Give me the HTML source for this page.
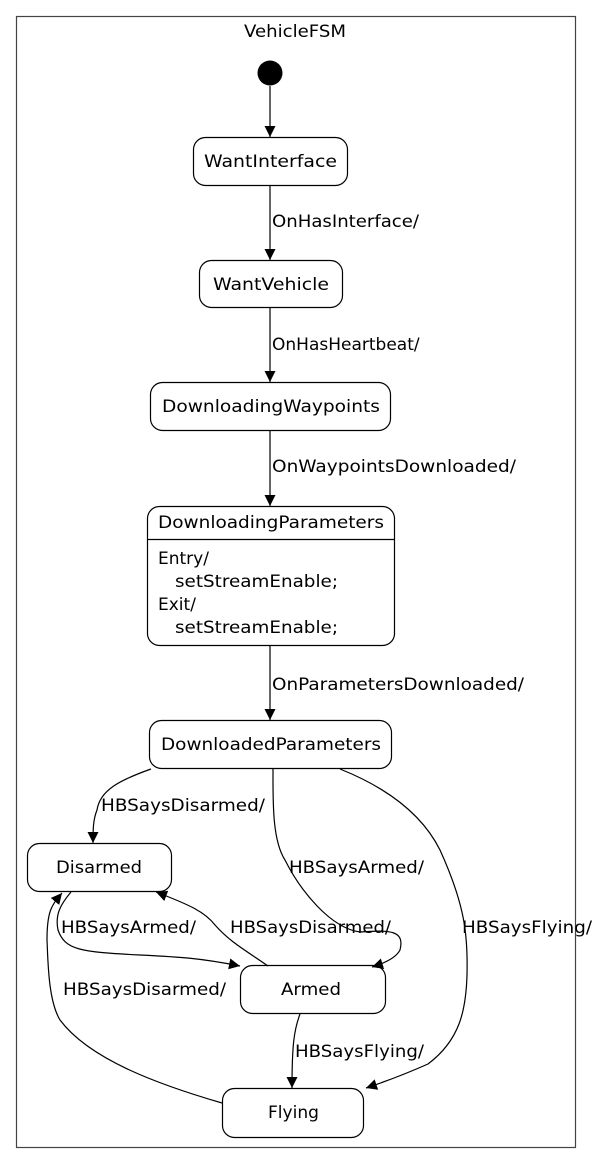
<!DOCTYPE html>
<html><head><meta charset="utf-8"><style>
html,body{margin:0;padding:0;background:#fff;}
svg{display:block;}
text{font-family:"DejaVu Sans","Liberation Sans",sans-serif;font-size:17px;fill:#000;}
</style></head><body>
<svg width="599" height="1165" viewBox="0 0 599 1165" xmlns="http://www.w3.org/2000/svg">
<defs>
<marker id="a" viewBox="0 0 10 10" refX="10" refY="5" markerWidth="11" markerHeight="11" markerUnits="userSpaceOnUse" orient="auto">
<path d="M0,0 L10,5 L0,10 z" fill="#000"/></marker>
</defs>
<rect x="16.5" y="16.5" width="559" height="1131" fill="#fff" stroke="#444" stroke-width="1.2"/>
<text x="244" y="37" textLength="102" lengthAdjust="spacingAndGlyphs">VehicleFSM</text>
<circle cx="270" cy="73" r="12.5" fill="#000"/>
<g fill="none" stroke="#000" stroke-width="1.2">
<rect x="193.5" y="137.5" width="154" height="48" rx="12"/>
<rect x="199.5" y="260.5" width="143" height="47" rx="12"/>
<rect x="150.5" y="382.5" width="240" height="48" rx="12"/>
<rect x="147.5" y="506.5" width="247" height="139" rx="12"/>
<line x1="147.5" y1="539.5" x2="394.5" y2="539.5"/>
<rect x="149.5" y="720.5" width="242" height="48" rx="12"/>
<rect x="27.5" y="843.5" width="144" height="48" rx="12"/>
<rect x="240.5" y="965.5" width="145" height="48" rx="12"/>
<rect x="222.5" y="1088.5" width="141" height="49" rx="12"/>

<path d="M270,86 L270,137" marker-end="url(#a)"/>
<path d="M270,186 L270,260" marker-end="url(#a)"/>
<path d="M270,308 L270,382" marker-end="url(#a)"/>
<path d="M270,431 L270,506" marker-end="url(#a)"/>
<path d="M270,646 L270,720" marker-end="url(#a)"/>
<path d="M151,769 C120,780 100,790 97,810 C93,820 93,830 93,843" marker-end="url(#a)"/>
<path d="M273,769 C273,800 272,840 285,860 C300,890 330,928 360,932 C390,930 405,930 400,950 C396,958 385,963 372,967" marker-end="url(#a)"/>
<path d="M340,769 C380,785 420,810 440,850 C465,905 468,935 467,975 C466,1010 460,1040 428,1064 C410,1072 390,1080 366,1088" marker-end="url(#a)"/>
<path d="M300,1014 C294,1030 292,1045 292,1088" marker-end="url(#a)"/>
<path d="M71,892 C60,905 55,915 58,930 C65,950 80,952 140,955 C180,957 200,958 240,966" marker-end="url(#a)"/>
<path d="M268,966 C245,950 230,942 215,925 C205,912 190,905 156,892" marker-end="url(#a)"/>
<path d="M222,1103 C160,1085 90,1060 60,1020 C48,1000 48,960 47,940 C47,910 52,905 62,893" marker-end="url(#a)"/>
</g>
<text x="204" y="167" textLength="133" lengthAdjust="spacingAndGlyphs">WantInterface</text>
<text x="213" y="290" textLength="116" lengthAdjust="spacingAndGlyphs">WantVehicle</text>
<text x="162" y="412" textLength="218" lengthAdjust="spacingAndGlyphs">DownloadingWaypoints</text>
<text x="158" y="528" textLength="226" lengthAdjust="spacingAndGlyphs">DownloadingParameters</text>
<text x="158" y="564">Entry/</text>
<text x="175" y="587" textLength="163" lengthAdjust="spacingAndGlyphs">setStreamEnable;</text>
<text x="158" y="610">Exit/</text>
<text x="175" y="633" textLength="163" lengthAdjust="spacingAndGlyphs">setStreamEnable;</text>
<text x="161" y="750" textLength="220" lengthAdjust="spacingAndGlyphs">DownloadedParameters</text>
<text x="56" y="873" textLength="86" lengthAdjust="spacingAndGlyphs">Disarmed</text>
<text x="281" y="995" textLength="60" lengthAdjust="spacingAndGlyphs">Armed</text>
<text x="268" y="1118" textLength="51" lengthAdjust="spacingAndGlyphs">Flying</text>
<text x="272" y="227" textLength="147" lengthAdjust="spacingAndGlyphs">OnHasInterface/</text>
<text x="272" y="350">OnHasHeartbeat/</text>
<text x="272" y="472" textLength="244" lengthAdjust="spacingAndGlyphs">OnWaypointsDownloaded/</text>
<text x="272" y="690" textLength="252" lengthAdjust="spacingAndGlyphs">OnParametersDownloaded/</text>
<text x="101" y="811" textLength="164" lengthAdjust="spacingAndGlyphs">HBSaysDisarmed/</text>
<text x="289" y="873" textLength="135" lengthAdjust="spacingAndGlyphs">HBSaysArmed/</text>
<text x="462" y="933" textLength="130" lengthAdjust="spacingAndGlyphs">HBSaysFlying/</text>
<text x="61" y="933" textLength="135" lengthAdjust="spacingAndGlyphs">HBSaysArmed/</text>
<text x="230" y="933" textLength="161" lengthAdjust="spacingAndGlyphs">HBSaysDisarmed/</text>
<text x="63" y="995" textLength="163" lengthAdjust="spacingAndGlyphs">HBSaysDisarmed/</text>
<text x="295" y="1057" textLength="129" lengthAdjust="spacingAndGlyphs">HBSaysFlying/</text>
</svg>
</body></html>
